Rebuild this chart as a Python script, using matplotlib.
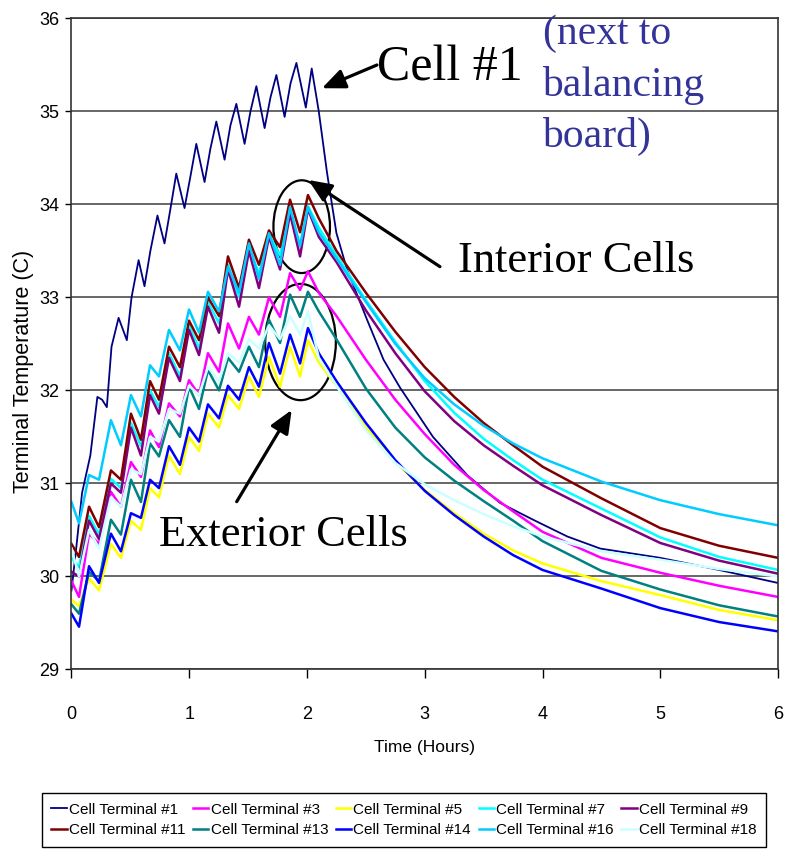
import matplotlib
matplotlib.use('Agg')
import matplotlib.pyplot as plt
from matplotlib.patches import Ellipse

plt.rcParams['font.family'] = ['Liberation Sans', 'DejaVu Sans']
serif = ['Liberation Serif', 'DejaVu Serif']

# --- data ---
# Cell #1 has its own time points (its pulses peak a little later)
hours_c1 = [0.00, 0.04, 0.09, 0.16, 0.22, 0.26, 0.30, 0.34, 0.40, 0.47, 0.51, 0.57,
            0.62, 0.67, 0.73, 0.79, 0.84, 0.89, 0.96, 1.01, 1.06, 1.13, 1.18, 1.23,
            1.30, 1.35, 1.40, 1.47, 1.52, 1.57, 1.64, 1.69, 1.74, 1.81, 1.86, 1.91,
            1.99, 2.04, 2.10, 2.17, 2.25, 2.34, 2.51, 2.65, 2.79, 3.07, 3.36, 3.64,
            3.92, 4.21, 4.49, 5.00, 5.50, 6.00]
temp_c1 = [29.85, 30.30, 30.90, 31.30, 31.93, 31.90, 31.82, 32.47, 32.78, 32.54, 33.00, 33.40,
           33.12, 33.50, 33.88, 33.58, 33.95, 34.33, 33.96, 34.30, 34.65, 34.24, 34.60, 34.89,
           34.48, 34.85, 35.08, 34.65, 35.00, 35.27, 34.82, 35.15, 35.39, 34.94, 35.30, 35.52,
           35.04, 35.46, 35.00, 34.34, 33.69, 33.30, 32.76, 32.33, 32.03, 31.50, 31.09, 30.79,
           30.61, 30.43, 30.30, 30.20, 30.07, 29.93]

# shared time points for the other cells: start, valley/peak pairs, then the cool-down
hours = [0.000,
         0.064, 0.149, 0.234, 0.335, 0.420, 0.505, 0.590, 0.667, 0.743, 0.828, 0.921, 0.998,
         1.083, 1.159, 1.253, 1.329, 1.423, 1.507, 1.592, 1.677, 1.771, 1.856, 1.941, 2.008,
         2.10, 2.25, 2.50, 2.75, 3.00, 3.25, 3.50, 3.75, 4.00, 4.50, 5.00, 5.50, 6.00]

temp_c3 = [29.95,
           29.78, 30.46, 30.35, 30.91, 30.75, 31.23, 31.07, 31.57, 31.39, 31.86, 31.72, 32.11,
           31.95, 32.40, 32.20, 32.72, 32.45, 32.79, 32.60, 33.00, 32.79, 33.26, 33.08, 33.28,
           33.05, 32.80, 32.33, 31.90, 31.53, 31.20, 30.93, 30.70, 30.48, 30.20, 30.04, 29.90, 29.78]
temp_c5 = [29.75,
           29.68, 29.98, 29.85, 30.35, 30.20, 30.60, 30.50, 30.95, 30.85, 31.30, 31.10, 31.50,
           31.35, 31.75, 31.60, 31.95, 31.80, 32.15, 31.93, 32.36, 32.04, 32.47, 32.15, 32.54,
           32.30, 32.05, 31.60, 31.23, 30.93, 30.68, 30.46, 30.28, 30.14, 29.95, 29.80, 29.64, 29.53]
temp_c7 = [30.20,
           30.10, 30.65, 30.45, 31.05, 30.95, 31.65, 31.40, 32.00, 31.82, 32.40, 32.15, 32.70,
           32.45, 32.95, 32.72, 33.35, 33.00, 33.55, 33.25, 33.68, 33.45, 33.92, 33.55, 33.98,
           33.75, 33.45, 32.97, 32.52, 32.10, 31.76, 31.48, 31.25, 31.04, 30.73, 30.42, 30.21, 30.07]
temp_c9 = [30.05,
           30.00, 30.60, 30.40, 31.00, 30.90, 31.60, 31.30, 31.95, 31.75, 32.35, 32.10, 32.65,
           32.38, 32.90, 32.62, 33.30, 32.90, 33.50, 33.10, 33.65, 33.30, 33.90, 33.44, 33.95,
           33.65, 33.38, 32.86, 32.40, 31.99, 31.67, 31.41, 31.19, 30.98, 30.66, 30.36, 30.17, 30.03]
temp_c11 = [30.35,
            30.21, 30.75, 30.53, 31.14, 31.04, 31.75, 31.47, 32.10, 31.90, 32.47, 32.25, 32.75,
            32.54, 33.00, 32.80, 33.44, 33.10, 33.62, 33.35, 33.72, 33.54, 34.05, 33.70, 34.10,
            33.85, 33.50, 33.05, 32.63, 32.25, 31.93, 31.65, 31.41, 31.18, 30.84, 30.52, 30.33, 30.20]
temp_c13 = [29.70,
            29.60, 30.05, 29.95, 30.61, 30.45, 31.04, 30.80, 31.43, 31.29, 31.68, 31.50, 32.04,
            31.80, 32.22, 32.00, 32.35, 32.20, 32.47, 32.25, 32.76, 32.51, 33.03, 32.79, 33.06,
            32.85, 32.55, 32.02, 31.60, 31.28, 31.03, 30.81, 30.60, 30.38, 30.06, 29.86, 29.69, 29.57]
temp_c14 = [29.60,
            29.46, 30.11, 29.93, 30.46, 30.27, 30.68, 30.63, 31.04, 30.95, 31.40, 31.20, 31.60,
            31.45, 31.85, 31.70, 32.05, 31.90, 32.25, 32.04, 32.51, 32.18, 32.60, 32.29, 32.67,
            32.40, 32.10, 31.65, 31.25, 30.92, 30.66, 30.43, 30.23, 30.07, 29.87, 29.66, 29.51, 29.41]
temp_c16 = [30.80,
            30.57, 31.09, 31.04, 31.68, 31.41, 31.95, 31.72, 32.27, 32.15, 32.65, 32.43, 32.87,
            32.62, 33.06, 32.85, 33.33, 33.05, 33.58, 33.20, 33.69, 33.35, 33.97, 33.55, 33.97,
            33.70, 33.42, 32.95, 32.50, 32.13, 31.85, 31.62, 31.43, 31.27, 31.02, 30.82, 30.67, 30.55]
temp_c18 = [30.30,
            30.00, 30.50, 30.30, 30.85, 30.75, 31.15, 31.10, 31.50, 31.45, 31.80, 31.75, 32.05,
            31.95, 32.25, 32.10, 32.40, 32.30, 32.55, 32.45, 32.70, 32.55, 32.80, 32.60, 32.85,
            32.35, 32.05, 31.57, 31.22, 30.99, 30.82, 30.67, 30.54, 30.43, 30.27, 30.18, 30.08, 30.00]

labels = ['Cell Terminal #1', 'Cell Terminal #3', 'Cell Terminal #5', 'Cell Terminal #7',
          'Cell Terminal #9', 'Cell Terminal #11', 'Cell Terminal #13', 'Cell Terminal #14',
          'Cell Terminal #16', 'Cell Terminal #18']
colors = ['#000080', '#FF00FF', '#FFFF00', '#00FFFF', '#800080',
          '#800000', '#008080', '#0000FF', '#00CCFF', '#CCFFFF']
xs = [hours_c1] + [hours] * 9
ys = [temp_c1, temp_c3, temp_c5, temp_c7, temp_c9,
      temp_c11, temp_c13, temp_c14, temp_c16, temp_c18]

fig = plt.figure(figsize=(7.89, 8.58), dpi=100)
ax = fig.add_axes([0.0906, 0.2197, 0.8955, 0.7590])

lines = []
for x, y, c, lab in zip(xs, ys, colors, labels):
    lw = 1.3 if lab.endswith('#1') else 1.8
    ln, = ax.plot(x, y, color=c, lw=lw, label=lab)
    lines.append(ln)

ax.set_xlim(0, 6)
ax.set_ylim(29, 36)
ax.set_xticks(range(0, 7))
ax.set_yticks(range(29, 37))
ax.yaxis.grid(True, color='#5a5a5a', lw=1.3)
ax.set_axisbelow(True)
for s in ax.spines.values():
    s.set_color('#333333')
    s.set_linewidth(1.2)
ax.tick_params(axis='x', direction='out', length=6.5, width=1, pad=20, labelsize=13, colors='black')
ax.tick_params(axis='y', direction='out', length=4, width=1, pad=5, labelsize=13, colors='black')

ax.set_xlabel('Time (Hours)', fontsize=12.5)
ax.xaxis.set_label_coords(0.5, -0.108)
ax.set_ylabel('Terminal Temperature (C)', fontsize=15.5)
ax.yaxis.set_label_coords(-0.053, 0.457)

# annotations
ax.text(3.215, 35.33, 'Cell #1', fontsize=36, family=serif, ha='center', va='baseline')
ax.text(4.0, 36.04, '(next to\nbalancing\nboard)', fontsize=30, family=serif,
        color='#333399', ha='left', va='top', linespacing=1.42)
ax.text(4.289, 33.27, 'Interior Cells', fontsize=32, family=serif, ha='center', va='baseline')
ax.text(1.799, 30.33, 'Exterior Cells', fontsize=32, family=serif, ha='center', va='baseline')

arrow = dict(arrowstyle='-|>,head_length=0.7,head_width=0.3', lw=2.3, color='black',
             mutation_scale=20, shrinkA=0, shrinkB=0)
ax.annotate('', xy=(2.127, 35.248), xytext=(2.594, 35.498), arrowprops=arrow)
ax.annotate('', xy=(2.011, 34.262), xytext=(3.129, 33.330), arrowprops=arrow)
ax.annotate('', xy=(1.870, 31.790), xytext=(1.403, 30.804), arrowprops=arrow)

ax.add_patch(Ellipse((1.955, 33.76), 0.48, 0.997, fill=False, ec='black', lw=1.6))
ax.add_patch(Ellipse((1.945, 32.52), 0.60, 1.25, fill=False, ec='black', lw=1.6))

# legend: rows read #1..#9 then #11..#18, matplotlib fills by column
order = [0, 5, 1, 6, 2, 7, 3, 8, 4, 9]
leg = fig.legend([lines[i] for i in order], [labels[i] for i in order],
                 loc='center', bbox_to_anchor=(0.512, 0.0443), ncol=5, fontsize=11,
                 frameon=True, fancybox=False, edgecolor='black', framealpha=1,
                 handlelength=1.0, handletextpad=0.15, columnspacing=0.5,
                 borderpad=0.6, labelspacing=0.45, borderaxespad=0)
leg.get_frame().set_linewidth(1.0)

fig.savefig('out.png', dpi=100)
